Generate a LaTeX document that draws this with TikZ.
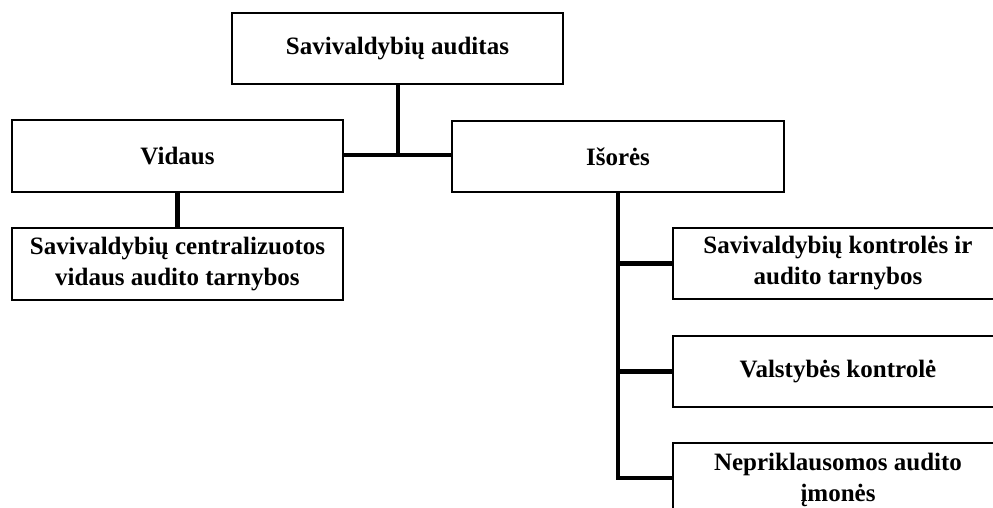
\documentclass[tikz,border=0pt]{standalone}
\usepackage{fontspec}
\setmainfont{Liberation Serif}
\begin{document}
\begin{tikzpicture}[x=1pt,y=-1pt,
  box/.style={draw=black,line width=1.3pt,fill=white,inner sep=0pt,align=center,
    font=\fontsize{25}{31}\selectfont\bfseries},
  conn/.style={line width=4.3pt,draw=black}]
\useasboundingbox (0,0) rectangle (993,508);
\clip (0,0) rectangle (993,508);
\node[box,minimum width=331pt,minimum height=71pt] (top) at (397.5,48.5) {Savivaldybių auditas};
\node[box,minimum width=331pt,minimum height=72pt] (vid) at (177.5,156) {Vidaus};
\node[box,minimum width=332pt,minimum height=71pt] (isor) at (618,156.5) {Išorės};
\node[box,minimum width=331pt,minimum height=72pt] (sub) at (177.5,264) {Savivaldybių centralizuotos\\vidaus audito tarnybos};
\node[box,minimum width=330pt,minimum height=71pt] (r1) at (838,263.5) {Savivaldybių kontrolės ir\\audito tarnybos};
\node[box,minimum width=330pt,minimum height=71pt] (r2) at (838,371.5) {Valstybės kontrolė};
\node[box,minimum width=330pt,minimum height=74pt] (r3) at (838,480) {Nepriklausomos audito\\įmonės};
\coordinate (j) at (398,155);
\coordinate (k) at (618,478);
\draw[conn] (top.south -| j) -- (j);
\draw[conn] (vid.east |- j) -- (isor.west |- j);
\draw[conn] (vid.south) -- (sub.north);
\draw[conn] (isor.south) -- (k) -- (k -| r3.west);
\draw[conn] (isor.south |- r1.west) -- (r1.west);
\draw[conn] (isor.south |- r2.west) -- (r2.west);
\end{tikzpicture}
\end{document}
